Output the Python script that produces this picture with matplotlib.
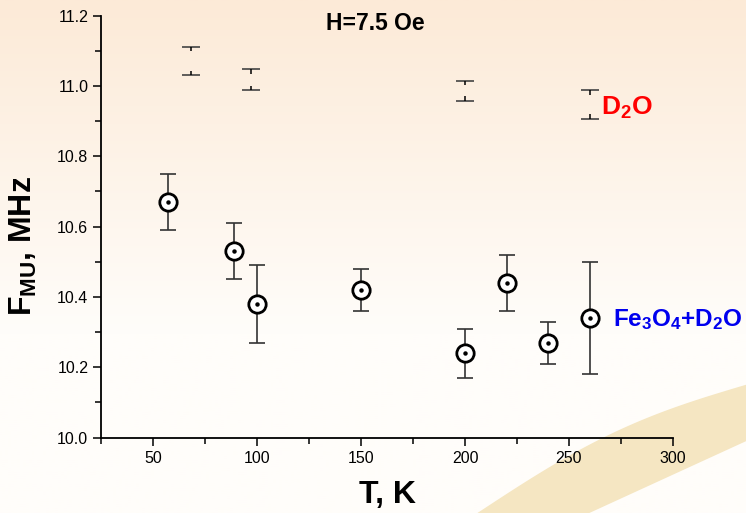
import numpy as np
import matplotlib.pyplot as plt
from matplotlib.patches import Polygon
from matplotlib.ticker import MultipleLocator

plt.rcParams['font.family'] = ['Liberation Sans', 'DejaVu Sans']
plt.rcParams['mathtext.fontset'] = 'custom'
plt.rcParams['mathtext.rm'] = 'Liberation Sans:bold'
plt.rcParams['mathtext.bf'] = 'Liberation Sans:bold'
plt.rcParams['mathtext.default'] = 'bf'

# Fe3O4 + D2O
t_fe = [57, 89, 100, 150, 200, 220, 240, 260]
f_fe = [10.67, 10.53, 10.38, 10.42, 10.24, 10.44, 10.27, 10.34]
err_fe = [0.08, 0.08, 0.11, 0.06, 0.07, 0.08, 0.06, 0.16]

# pure D2O
t_d2o = [68, 97, 200, 260]
f_d2o = [11.07, 11.017, 10.986, 10.947]
err_d2o = [0.04, 0.03, 0.028, 0.04]

fig = plt.figure(figsize=(7.46, 5.13), dpi=100)

# slide background
bg = fig.add_axes([0, 0, 1, 1], zorder=-10)
top = np.array([252, 234, 215]) / 255
bot = np.array([255, 253, 250]) / 255
h = np.linspace(0, 1, 256)
w = np.clip(h / 0.65, 0, 1)[:, None]
grad = top * (1 - w) + bot * w
bg.imshow(grad[:, None, :], aspect='auto', extent=[0, 1, 0, 1], origin='upper')
xs = np.linspace(0, 1, 50)
upper = [(0.64 + 0.36 * s, 0.25 * s + 0.03 * np.sin(np.pi * s)) for s in xs]
lower = [(0.79 + 0.21 * s, 0.14 * s) for s in xs[::-1]]
bg.add_patch(Polygon(upper + [(1, 0.14)] + lower, closed=True,
                     facecolor='#f5e6c2', edgecolor='none'))
bg.set_xlim(0, 1)
bg.set_ylim(0, 1)
bg.axis('off')

ax = fig.add_axes([0.136, 0.147, 0.766, 0.8226])
ax.set_facecolor('none')

ax.errorbar(t_fe, f_fe, yerr=err_fe, fmt='none', ecolor='#333333',
            elinewidth=1.2, capsize=6, capthick=1.2, zorder=2)
ax.plot(t_fe, f_fe, 'o', ms=12.5, mfc='white', mec='black', mew=2.0, zorder=3)
ax.plot(t_fe, f_fe, 'o', ms=2.2, color='black', zorder=4)

# D2O: caps with short stubs only
ax.errorbar(t_d2o, f_d2o, yerr=err_d2o, fmt='none', ecolor='#444444',
            elinewidth=0, capsize=6.5, capthick=1.2)
stub = 0.012
d_hi = np.array(f_d2o) + np.array(err_d2o)
d_lo = np.array(f_d2o) - np.array(err_d2o)
ax.vlines(t_d2o, d_hi - stub, d_hi, color='black', lw=1.1)
ax.vlines(t_d2o, d_lo, d_lo + stub, color='black', lw=1.1)

ax.set_xlim(25, 300)
ax.set_ylim(10.0, 11.2)
ax.xaxis.set_minor_locator(MultipleLocator(25))
ax.yaxis.set_minor_locator(MultipleLocator(0.1))
ax.set_xticks([50, 100, 150, 200, 250, 300])
yt = np.round(np.arange(10.0, 11.21, 0.2), 1)
ax.set_yticks(yt)
ax.set_yticklabels([f'{v:.1f}' for v in yt])

for s in ['top', 'right']:
    ax.spines[s].set_visible(False)
for s in ['left', 'bottom']:
    ax.spines[s].set_linewidth(1.3)
ax.tick_params(which='major', direction='out', length=6, width=1.1, labelsize=11.5)
ax.tick_params(which='minor', direction='out', length=4, width=1.1)

ax.set_xlabel('T, K', fontsize=23, fontweight='bold')
ax.xaxis.set_label_coords(0.5, -0.1)
ax.set_ylabel(r'F$_{MU}$, MHz', fontsize=23, fontweight='bold')
ax.yaxis.set_label_coords(-0.11, 0.455)

fig.text(0.503, 0.955, 'H=7.5 Oe', fontsize=16.5, fontweight='bold', ha='center', va='center')
fig.text(0.806, 0.79, r'D$_2$O', fontsize=19, fontweight='bold', color='#ff0000', va='center')
fig.text(0.822, 0.378, r'Fe$_3$O$_4$+D$_2$O', fontsize=17.5, fontweight='bold', color='#0000ee', va='center')

fig.savefig('out.png', dpi=100)
